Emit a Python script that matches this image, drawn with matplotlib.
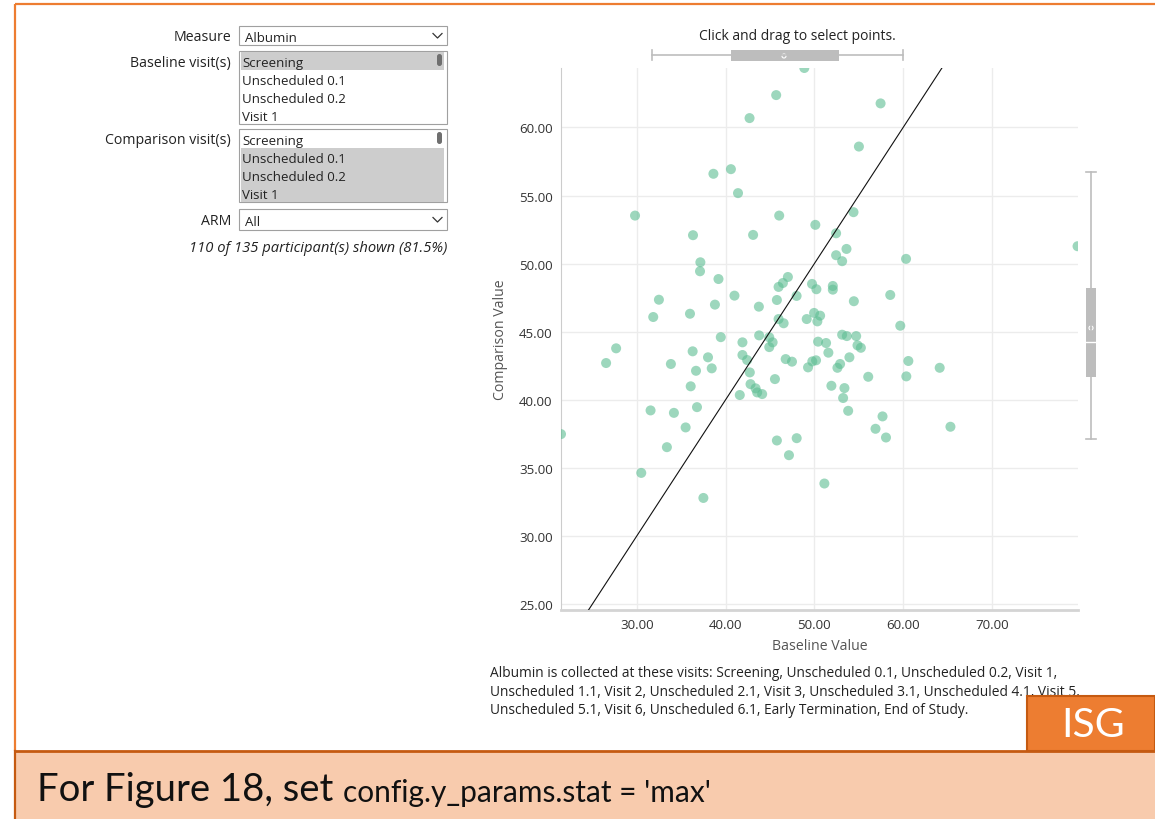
import matplotlib
matplotlib.use("Agg")
import matplotlib.pyplot as plt
from matplotlib.patches import Rectangle, FancyBboxPatch, Circle

plt.rcParams["font.family"] = ["Open Sans", "DejaVu Sans"]

# Baseline (x) and comparison (y) values per participant
baseline = [38.63, 40.60, 41.40, 29.80, 36.33, 37.16, 37.12, 39.20, 41.00, 32.49,
            38.80, 31.85, 35.99, 39.46, 48.87, 45.70, 42.70, 57.46, 55.02, 46.04,
            50.11, 54.41, 43.10, 52.45, 53.62, 52.45, 53.13, 60.33, 47.02, 46.46,
            45.97, 49.74, 50.23, 52.08, 52.08, 48.00, 58.55, 45.78, 43.75, 54.45,
            45.97, 46.54, 49.14, 49.97, 50.65, 50.34, 59.68, 41.90, 43.78, 44.92,
            45.30, 44.92, 41.90, 42.43, 42.73, 42.81, 43.38, 43.56, 44.12, 41.60,
            45.56, 46.77, 47.48, 49.29, 49.77, 50.19, 50.42, 51.32, 51.58, 52.90,
            52.60, 53.13, 53.66, 54.71, 54.86, 55.24, 53.95, 51.92, 53.39, 53.24,
            53.81, 56.07, 57.68, 56.89, 58.07, 45.78, 48.01, 47.14, 51.13, 60.36,
            60.59, 27.67, 26.54, 33.84, 36.29, 38.02, 36.67, 38.44, 36.07, 31.55,
            34.18, 36.78, 35.50, 21.46, 33.39, 30.50, 37.50, 64.12, 65.33, 79.65]
comparison = [56.60, 56.94, 55.18, 53.53, 52.09, 50.10, 49.44, 48.87, 47.65, 47.35,
              46.99, 46.08, 46.32, 44.60, 64.37, 62.38, 60.69, 61.77, 58.60, 53.53,
              52.85, 53.78, 52.11, 52.23, 51.08, 50.62, 50.18, 50.35, 49.02, 48.58,
              48.29, 48.51, 48.12, 48.36, 48.09, 47.63, 47.70, 47.33, 46.84, 47.24,
              45.93, 45.62, 45.93, 46.38, 46.18, 45.76, 45.44, 44.22, 44.73, 44.59,
              44.22, 43.87, 43.29, 42.92, 42.01, 41.15, 40.84, 40.54, 40.42, 40.35,
              41.52, 42.99, 42.80, 42.38, 42.82, 42.90, 44.27, 44.17, 43.46, 42.63,
              42.35, 44.78, 44.68, 44.68, 44.00, 43.82, 43.12, 41.03, 40.86, 40.13,
              39.19, 41.69, 38.78, 37.87, 37.23, 37.01, 37.18, 35.93, 33.85, 41.72,
              42.85, 43.78, 42.70, 42.63, 43.56, 43.12, 42.13, 42.31, 40.99, 39.22,
              39.04, 39.46, 37.97, 37.48, 36.52, 34.63, 32.79, 42.35, 38.02, 51.28]

x_ticks = [30, 40, 50, 60, 70]
y_ticks = [25, 30, 35, 40, 45, 50, 55, 60]
x_limits = (21.46, 79.70)
y_limits = (24.56, 64.37)

baseline_visits = ["Screening", "Unscheduled 0.1", "Unscheduled 0.2", "Visit 1"]
baseline_selected = [True, False, False, False]
comparison_selected = [False, True, True, True]

footnote = ["Albumin is collected at these visits: Screening, Unscheduled 0.1, Unscheduled 0.2, Visit 1,",
            "Unscheduled 1.1, Visit 2, Unscheduled 2.1, Visit 3, Unscheduled 3.1, Unscheduled 4.1, Visit 5,",
            "Unscheduled 5.1, Visit 6, Unscheduled 6.1, Early Termination, End of Study."]

W, H = 1155, 820
fig = plt.figure(figsize=(W / 100, H / 100), dpi=100)

# Page overlay in pixel coordinates
bg = fig.add_axes([0, 0, 1, 1], zorder=0)
bg.set_xlim(0, W)
bg.set_ylim(H, 0)
bg.axis("off")

ORANGE = "#ED7D31"
DARK_ORANGE = "#C55A11"
TXT = "#222222"
UI = 10.2
ITEM = 9.5

# Slide frame
bg.plot([15, W], [5, 5], color=ORANGE, lw=1.6, solid_capstyle="butt")
bg.plot([15, 15], [5, 752], color=ORANGE, lw=1.6, solid_capstyle="butt")
bg.add_patch(Rectangle((15, 752), W - 15, H - 752, facecolor="#F8CBAD", edgecolor="none"))
bg.plot([15, W], [752, 752], color=DARK_ORANGE, lw=2)
bg.plot([15, 15], [752, H], color=DARK_ORANGE, lw=1.6)
bg.text(37, 790, "For Figure 18, set", fontsize=27.5, va="center", ha="left",
        family=["Lato", "DejaVu Sans"], color="#111111")
bg.text(343, 793, "config.y_params.stat = 'max'", fontsize=21.5, va="center", ha="left",
        family=["Lato", "DejaVu Sans"], color="#111111")

# Control panel
def dropdown(y0, y1, label, value):
    bg.add_patch(Rectangle((239, y0), 208, y1 - y0, facecolor="white", edgecolor="#a0a0a0", lw=0.8))
    cy = (y0 + y1) / 2
    bg.text(245, cy + 1.5, value, fontsize=ITEM, va="center", ha="left", color=TXT)
    bg.plot([433, 437.5, 442], [cy - 2, cy + 2.5, cy - 2], color="#333", lw=0.9)
    bg.text(231, cy + 1, label, fontsize=UI, va="center", ha="right", color=TXT)

def listbox(y0, label, selected):
    bg.add_patch(Rectangle((239, y0), 208, 73, facecolor="white", edgecolor="#a0a0a0", lw=0.8))
    for i, (item, sel) in enumerate(zip(baseline_visits, selected)):
        cy = y0 + 10 + i * 18
        if sel:
            bg.add_patch(Rectangle((241, cy - 9), 203, 18, facecolor="#cdcdcd", edgecolor="none"))
        bg.text(242, cy + 1.2, item, fontsize=ITEM, va="center", ha="left", color=TXT)
    bg.add_patch(FancyBboxPatch((437, y0 + 3), 5, 12, boxstyle="round,pad=0,rounding_size=2.5",
                                facecolor="#6f6f6f", edgecolor="none"))
    bg.text(231, y0 + 11, label, fontsize=UI, va="center", ha="right", color=TXT)

dropdown(27, 46, "Measure", "Albumin")
listbox(52, "Baseline visit(s)", baseline_selected)
listbox(130, "Comparison visit(s)", comparison_selected)
dropdown(210, 231, "ARM", "All")
bg.text(447, 248, "110 of 135 participant(s) shown (81.5%)", fontsize=10.6, style="italic",
        va="center", ha="right", color=TXT)

# Chart header and brushes
bg.text(797, 36, "Click and drag to select points.", fontsize=10, va="center", ha="center", color=TXT)
BR = "#bdbdbd"
bg.plot([652, 903], [56, 56], color=BR, lw=1.2)
bg.plot([652, 652], [51, 61], color=BR, lw=1.2)
bg.plot([903, 903], [51, 61], color=BR, lw=1.2)
bg.add_patch(Rectangle((731, 51), 108, 11, facecolor=BR, edgecolor="none"))
bg.add_patch(Circle((784, 57), 2, facecolor="none", edgecolor="white", lw=0.8))

bg.plot([1091, 1091], [173, 440], color=BR, lw=1.2)
bg.plot([1086, 1096], [173, 173], color=BR, lw=1.2)
bg.plot([1086, 1096], [440, 440], color=BR, lw=1.2)
bg.add_patch(Rectangle((1086, 289), 10, 89, facecolor=BR, edgecolor="none"))
bg.plot([1086, 1096], [343, 343], color="white", lw=1)
bg.add_patch(Circle((1091, 329), 2, facecolor="none", edgecolor="white", lw=0.8))

# Footnote
for i, line in enumerate(footnote):
    bg.text(490, 674 + i * 18.5, line, fontsize=9.95, va="center", ha="left", color=TXT)

# ISG badge
bg.add_patch(Rectangle((1027, 697), W - 1027, 55, facecolor=ORANGE, edgecolor=DARK_ORANGE,
                       lw=1.5, zorder=5))
bg.text(1093, 726, "ISG", fontsize=29.5, color="white", va="center", ha="center",
        family=["Lato", "DejaVu Sans"], zorder=6)

# Scatter plot
left, right, top, bottom = 561, 1078, 69, 611
ax = fig.add_axes([left / W, 1 - bottom / H, (right - left) / W, (bottom - top) / H], zorder=2)
ax.set_facecolor("none")
ax.set_xlim(*x_limits)
ax.set_ylim(*y_limits)
ax.set_xticks(x_ticks)
ax.set_yticks(y_ticks)
ax.set_xticklabels([f"{v:.2f}" for v in x_ticks])
ax.set_yticklabels([f"{v:.2f}" for v in y_ticks])
ax.grid(True, color="#ececec", lw=1)
ax.set_axisbelow(True)
ax.tick_params(length=0, labelsize=9.6, colors="#333333")
ax.tick_params(axis="y", pad=6)
ax.tick_params(axis="x", pad=6)
for s in ("top", "right"):
    ax.spines[s].set_visible(False)
ax.spines["left"].set_color("#cccccc")
ax.spines["bottom"].set_color("#d4d4d4")
ax.spines["bottom"].set_linewidth(2)

ax.scatter(baseline, comparison, s=52, color="#5cbd92", alpha=0.6, edgecolors="none",
           zorder=3, clip_on=True)
ax.axline((30, 30), (60, 60), color="#111111", lw=0.8, zorder=4)

ax.set_xlabel("Baseline Value", fontsize=UI, color="#555555", labelpad=5)
ax.set_ylabel("Comparison Value", fontsize=UI, color="#555555", labelpad=8)

fig.savefig("out.png", dpi=100)
